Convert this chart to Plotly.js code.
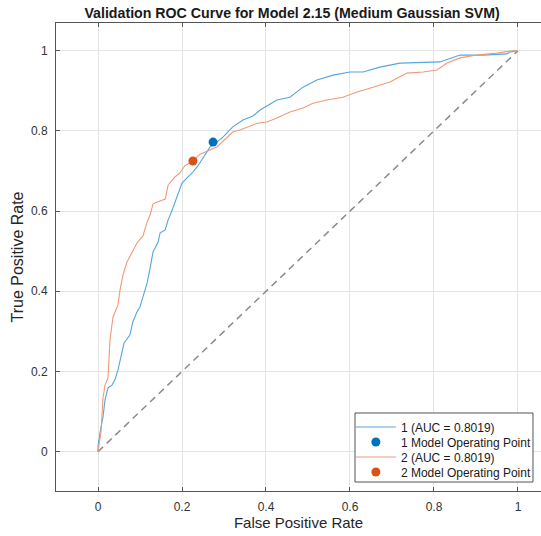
<!DOCTYPE html>
<html>
<head>
<meta charset="utf-8">
<script src="https://cdn.plot.ly/plotly-3.0.1.min.js"></script>
<style>html,body{margin:0;padding:0;background:#fff;}#chart{width:541px;height:536px;}</style>
</head>
<body>
<div id="chart"></div>
<script>
// Model 1 ROC curve
const fpr1 = [0,0,0.0048,0.0119,0.0167,0.0238,0.0333,0.040,0.0476,0.057,0.062,0.076,0.083,0.093,0.100,0.107,0.117,0.124,0.131,0.143,0.148,0.160,0.167,0.176,0.188,0.200,0.212,0.224,0.236,0.248,0.267,0.283,0.298,0.321,0.345,0.369,0.386,0.410,0.426,0.457,0.488,0.521,0.560,0.600,0.631,0.671,0.719,0.814,0.845,0.862,0.917,0.974,0.981,1];
const tpr1 = [0,0.015,0.047,0.087,0.129,0.159,0.166,0.179,0.204,0.254,0.271,0.291,0.324,0.349,0.361,0.386,0.421,0.458,0.498,0.523,0.546,0.553,0.578,0.601,0.635,0.670,0.683,0.695,0.710,0.730,0.760,0.772,0.785,0.810,0.827,0.837,0.852,0.867,0.877,0.884,0.909,0.927,0.939,0.947,0.947,0.959,0.969,0.972,0.984,0.989,0.989,0.992,0.997,1];
// Model 2 ROC curve
const fpr2 = [0,0.0024,0.0071,0.0119,0.0167,0.0238,0.0286,0.0357,0.0476,0.0524,0.0595,0.069,0.081,0.093,0.107,0.117,0.124,0.131,0.143,0.160,0.167,0.183,0.195,0.207,0.226,0.243,0.283,0.321,0.338,0.379,0.402,0.426,0.457,0.488,0.512,0.545,0.583,0.617,0.655,0.695,0.736,0.774,0.807,0.831,0.862,0.902,0.950,0.981,1];
const tpr2 = [0,0.019,0.049,0.134,0.166,0.184,0.279,0.336,0.366,0.403,0.441,0.473,0.498,0.521,0.538,0.573,0.590,0.618,0.623,0.630,0.665,0.685,0.695,0.713,0.725,0.742,0.760,0.797,0.802,0.819,0.822,0.832,0.847,0.857,0.869,0.877,0.884,0.897,0.909,0.922,0.944,0.947,0.952,0.969,0.982,0.989,0.994,0.999,1];
// Operating points
const op1 = [0.274, 0.772];
const op2 = [0.226, 0.725];
// Chance line
const diagX = [0, 1];
const diagY = [0, 1];
const tickVals = [0, 0.2, 0.4, 0.6, 0.8, 1];
const tickText = ['0', '0.2', '0.4', '0.6', '0.8', '1'];
const names = ['1 (AUC = 0.8019)', '1 Model Operating Point', '2 (AUC = 0.8019)', '2 Model Operating Point'];

const FONT = 'Liberation Sans, Arial, sans-serif';
const NB = '\u00A0';

const traces = [
  {x: diagX, y: diagY, mode: 'lines', line: {color: '#8a8a8a', width: 1.5, dash: '7px,5px'}, showlegend: false, hoverinfo: 'skip'},
  {x: fpr1, y: tpr1, mode: 'lines', name: names[0], legend: 'legend', line: {color: '#55a6de', width: 1.1}},
  {x: [op1[0]], y: [op1[1]], mode: 'markers', name: names[1], legend: 'legend2', marker: {color: '#0072BD', size: 9}},
  {x: fpr2, y: tpr2, mode: 'lines', name: names[2], legend: 'legend3', line: {color: '#f0997a', width: 1.1}},
  {x: [op2[0]], y: [op2[1]], mode: 'markers', name: names[3], legend: 'legend4', marker: {color: '#D95319', size: 9}}
];

const axisCommon = {
  tickvals: tickVals, ticktext: tickText,
  showgrid: true, gridcolor: '#e4e4e4', gridwidth: 1,
  zeroline: false, showline: true, linecolor: '#555', linewidth: 1,
  ticks: 'inside', ticklen: 4, tickcolor: '#555',
  tickfont: {family: FONT, size: 12, color: '#333'}
};

const legendRowsY = [0.1368, 0.1047, 0.0726, 0.0406];
function mkLegend(yv) {
  return {x: 0.608, xanchor: 'left', y: yv, yanchor: 'middle', bgcolor: 'rgba(0,0,0,0)', borderwidth: 0,
    font: {family: FONT, size: 12, color: '#1a1a1a'}, itemwidth: 40};
}

const layout = {
  width: 541, height: 536,
  margin: {l: 56, r: 0, t: 23, b: 45},
  paper_bgcolor: '#fff', plot_bgcolor: '#fff',
  title: {text: 'Validation ROC Curve for Model 2.15 (Medium Gaussian SVM)', font: {family: FONT, size: 14.2, color: '#1a1a1a', weight: 'bold'}, x: 0.54, xref: 'container', xanchor: 'center', y: 0.976, yref: 'container', yanchor: 'middle'},
  xaxis: Object.assign({}, axisCommon, {range: [-0.1, 1.0548], mirror: 'ticks', ticklabelstandoff: 5,
    title: {text: NB + NB + 'False Positive Rate', font: {family: FONT, size: 15, color: '#262626'}, standoff: 3}}),
  yaxis: Object.assign({}, axisCommon, {range: [-0.098, 1.069], mirror: false, ticklabelstandoff: 5,
    title: {text: 'True Positive Rate' + NB.repeat(6), font: {family: FONT, size: 16, color: '#262626'}, standoff: 3}}),
  legend: mkLegend(legendRowsY[0]),
  legend2: mkLegend(legendRowsY[1]),
  legend3: mkLegend(legendRowsY[2]),
  legend4: mkLegend(legendRowsY[3]),
  shapes: [{type: 'rect', xref: 'paper', yref: 'paper', x0: 0.6165, x1: 0.9835, y0: 0.0192, y1: 0.1667,
    fillcolor: '#fff', line: {color: '#555', width: 1}, layer: 'above'}],
  showlegend: true
};

Plotly.newPlot('chart', traces, layout, {displayModeBar: false, staticPlot: true});
</script>
</body>
</html>
